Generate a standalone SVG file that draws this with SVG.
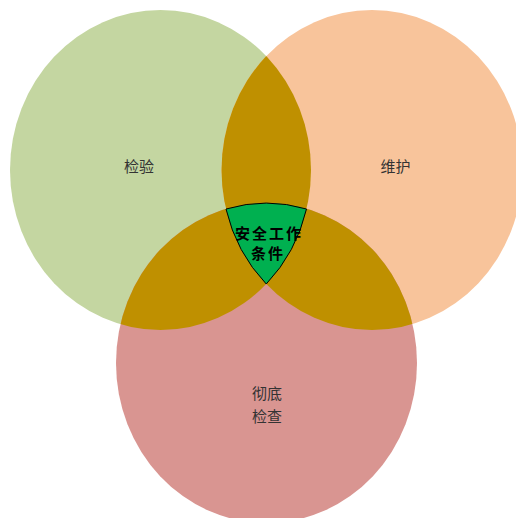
<svg xmlns="http://www.w3.org/2000/svg" width="516" height="518" viewBox="0 0 516 518">
<style>
.lbl{font-family:"Noto Sans CJK SC","Noto Sans",sans-serif;font-size:15px;fill:#333333;text-anchor:middle}
.ctr{font-family:"Noto Sans CJK SC","Noto Sans",sans-serif;font-size:15px;font-weight:bold;fill:#000000;text-anchor:middle;letter-spacing:2px}
.gold{fill:#BF9000}
</style>
<defs>
<clipPath id="cpG"><ellipse cx="160.5" cy="170" rx="150.5" ry="160"/></clipPath>
<clipPath id="cpO"><ellipse cx="372" cy="170" rx="150.5" ry="160"/></clipPath>
</defs>
<rect width="516" height="518" fill="#FFFFFF"/>
<g id="node-jianyan">
<ellipse cx="160.5" cy="170" rx="150.5" ry="160" fill="#C4D6A1"/>
</g>
<g id="node-weihu">
<ellipse cx="372" cy="170" rx="150.5" ry="160" fill="#F8C49B"/>
</g>
<g id="node-checha">
<ellipse cx="266.5" cy="363" rx="150.5" ry="160" fill="#D99591"/>
</g>
<g id="overlaps">
<ellipse class="gold" cx="372" cy="170" rx="150.5" ry="160" clip-path="url(#cpG)"/>
<ellipse class="gold" cx="266.5" cy="363" rx="150.5" ry="160" clip-path="url(#cpG)"/>
<ellipse class="gold" cx="266.5" cy="363" rx="150.5" ry="160" clip-path="url(#cpO)"/>
</g>
<g id="node-center">
<path d="M226,209 A150.5,160 0 0,1 306.5,209 A150.5,160 0 0,1 266.25,284 A150.5,160 0 0,1 226,209 Z" fill="#00B050" stroke="#000000" stroke-width="1"/>
<text class="ctr" x="269" y="238.5">安全工作</text>
<text class="ctr" x="268" y="258.5">条件</text>
</g>
<g id="labels">
<text class="lbl" x="139" y="172">检验</text>
<text class="lbl" x="395.5" y="172">维护</text>
<text class="lbl" x="267" y="399">彻底</text>
<text class="lbl" x="267" y="422">检查</text>
</g>
<g id="connectors"/>
</svg>
